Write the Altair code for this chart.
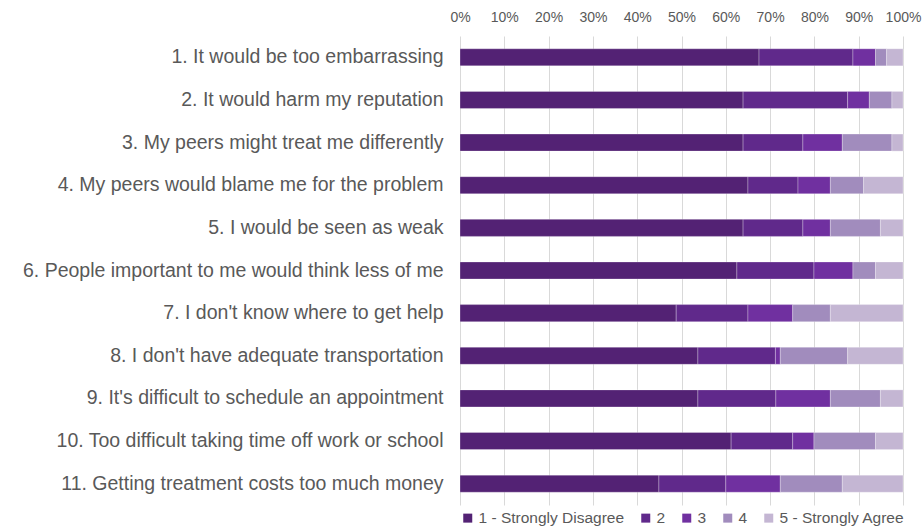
import altair as alt
import pandas as pd

statements = [
    "1. It would be too embarrassing",
    "2. It would harm my reputation",
    "3. My peers might treat me differently",
    "4. My peers would blame me for the problem",
    "5. I would be seen as weak",
    "6. People important to me would think less of me",
    "7. I don't know where to get help",
    "8. I don't have adequate transportation",
    "9. It's difficult to schedule an appointment",
    "10. Too difficult taking time off work or school",
    "11. Getting treatment costs too much money",
]
responses = ["1 - Strongly Disagree", "2", "3", "4", "5 - Strongly Agree"]
r1 = [67.5, 63.9, 63.9, 65.0, 63.9, 62.5, 48.8, 53.7, 53.7, 61.2, 44.9]
r2 = [21.2, 23.6, 13.5, 11.3, 13.5, 17.4, 16.2, 17.5, 17.6, 13.9, 15.1]
r3 = [5.1, 4.9, 8.9, 7.3, 6.2, 8.8, 10.1, 1.1, 12.3, 4.8, 12.3]
r4 = [2.5, 5.1, 11.2, 7.5, 11.3, 5.1, 8.5, 15.2, 11.3, 13.9, 14.0]
r5 = [3.7, 2.5, 2.5, 8.9, 5.1, 6.2, 16.4, 12.5, 5.1, 6.2, 13.7]
colors = ["#532274", "#60298b", "#7030a0", "#a18cbd", "#c4b6d3"]
ticks = [0, 10, 20, 30, 40, 50, 60, 70, 80, 90, 100]

rows = []
for series_idx, series in enumerate([r1, r2, r3, r4, r5]):
    for s, v in zip(statements, series):
        rows.append({"statement": s, "response": responses[series_idx],
                     "order": series_idx, "value": v})
df = pd.DataFrame(rows)

W, H = 443, 469
chart = alt.Chart(df).mark_bar(
    stroke="white", strokeOpacity=0.35, strokeWidth=0.8
).encode(
    y=alt.Y("statement:N", sort=statements, title=None,
            scale=alt.Scale(paddingInner=0.6, paddingOuter=0.3),
            axis=alt.Axis(labelFontSize=19.5, labelColor="#595959", labelFont="Liberation Sans",
                          labelPadding=17, ticks=False, domain=False, labelLimit=700)),
    x=alt.X("value:Q", stack="zero", title=None,
            scale=alt.Scale(domain=[0, 100], nice=False),
            axis=alt.Axis(orient="top", values=ticks, labelExpr="datum.value + '%'",
                          labelFontSize=14, labelColor="#595959", labelFont="Liberation Sans",
                          labelOverlap=False, labelFlush=False,
                          ticks=False, domain=False, labelPadding=12,
                          grid=True, gridColor="#d9d9d9", gridWidth=1)),
    color=alt.Color("response:N", sort=responses,
                    scale=alt.Scale(domain=responses, range=colors),
                    legend=alt.Legend(title=None, orient="none", direction="horizontal",
                                      legendX=0, legendY=H + 5,
                                      symbolType="square", symbolSize=81,
                                      symbolStrokeWidth=0, labelFontSize=15.5,
                                      labelColor="#595959", labelFont="Liberation Sans",
                                      columnPadding=13, symbolOffset=0, labelOffset=3)),
    order=alt.Order("order:Q"),
).properties(
    width=W, height=H,
    autosize=alt.AutoSizeParams(type="none"),
    padding={"left": 460, "top": 36, "right": 21, "bottom": 22},
).configure_view(stroke=None)

chart.save("out.html", embed_options={"renderer": "svg", "actions": False})
